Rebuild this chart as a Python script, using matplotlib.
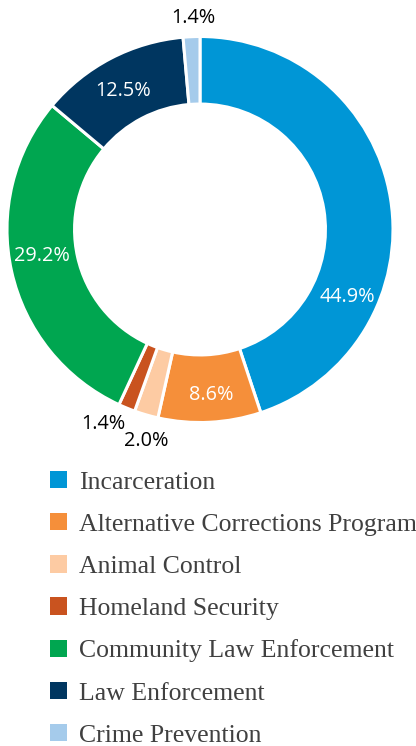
import matplotlib
matplotlib.use("Agg")
import matplotlib.pyplot as plt

categories = ["Incarceration", "Alternative Corrections Program", "Animal Control",
              "Homeland Security", "Community Law Enforcement", "Law Enforcement",
              "Crime Prevention"]
values = [44.9, 8.6, 2.0, 1.4, 29.2, 12.5, 1.4]
colors = ["#0096D6", "#F58F3A", "#FDCBA3", "#C9531F", "#00A650", "#003660", "#A5CBEB"]
pct_labels = ["44.9%", "8.6%", "2.0%", "1.4%", "29.2%", "12.5%", "1.4%"]

# label placement (data units of the pie axes) and colour
label_pos = [(0.762, -0.35), (0.057, -0.858), (-0.28, -1.095), (-0.503, -1.01),
             (-0.819, -0.137), (-0.399, 0.718), (-0.036, 1.096)]
label_col = ["white", "white", "black", "black", "white", "white", "black"]

W, H = 416, 746
fig = plt.figure(figsize=(W / 100, H / 100), dpi=100)
cx, cy, R = 200, 229.5, 193
ax = fig.add_axes([(cx - R) / W, (H - cy - R) / H, 2 * R / W, 2 * R / H])

wedges, _ = ax.pie(values, colors=colors, startangle=90, counterclock=False,
                   radius=1.0,
                   wedgeprops=dict(width=0.35, edgecolor="white", linewidth=2.2))
ax.set_xlim(-1, 1)
ax.set_ylim(-1, 1)
ax.set_aspect("equal")
ax.axis("off")

for (x, y), t, c in zip(label_pos, pct_labels, label_col):
    ax.text(x, y, t, ha="center", va="center", color=c, fontsize=14.3,
            family=["Open Sans", "DejaVu Sans"], clip_on=False)

leg = fig.legend(wedges, categories, loc="upper left",
                 bbox_to_anchor=(50 / W, 1 - 471 / H),
                 frameon=False, prop=dict(family="Liberation Serif", size=18.5),
                 handlelength=0.66, handleheight=0.66, handletextpad=0.47,
                 labelspacing=0.757, borderpad=0, borderaxespad=0)
for t in leg.get_texts():
    t.set_color("#404040")
for h in leg.legend_handles:
    h.set_edgecolor("none")

fig.savefig("out.png", dpi=100)
